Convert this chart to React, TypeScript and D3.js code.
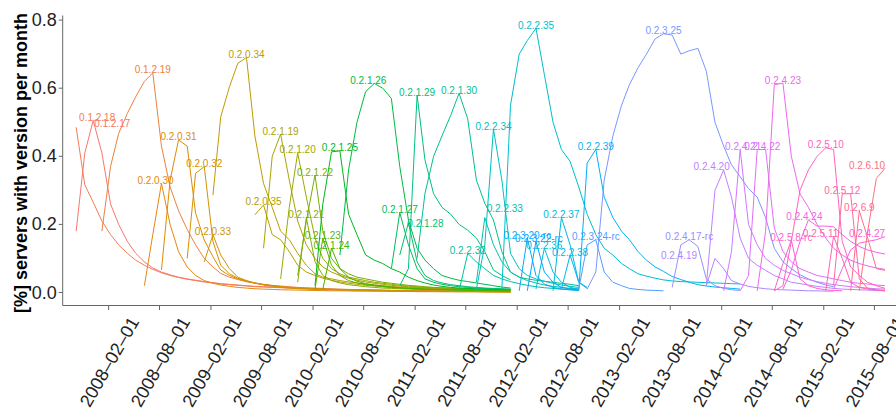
import React, { useRef, useEffect } from 'react'
import * as d3 from 'd3'

const WIDTH = 896
const HEIGHT = 409
const FONT = '"Liberation Sans", Arial, sans-serif'

// release names, in legend / colour order
const versions = [
  '0.1.2.17', '0.1.2.18', '0.1.2.19',
  '0.2.0.30', '0.2.0.31', '0.2.0.32', '0.2.0.33', '0.2.0.34', '0.2.0.35',
  '0.2.1.19', '0.2.1.20', '0.2.1.21', '0.2.1.22', '0.2.1.23', '0.2.1.24',
  '0.2.1.25', '0.2.1.26', '0.2.1.27', '0.2.1.28', '0.2.1.29', '0.2.1.30',
  '0.2.2.32', '0.2.2.33', '0.2.2.34', '0.2.2.35', '0.2.2.36', '0.2.2.37',
  '0.2.2.38', '0.2.2.39', '0.2.3.20-rc', '0.2.3.22-rc', '0.2.3.24-rc', '0.2.3.25',
  '0.2.4.17-rc', '0.2.4.19', '0.2.4.20', '0.2.4.21', '0.2.4.22', '0.2.4.23',
  '0.2.4.24', '0.2.4.27', '0.2.5.8-rc', '0.2.5.10', '0.2.5.11', '0.2.5.12',
  '0.2.6.9', '0.2.6.10'
]

// month of the first value of each version
const firstMonths = [
  '2007-10', '2007-10', '2008-01',
  '2008-06', '2008-08', '2008-11', '2009-01', '2009-02', '2009-07',
  '2009-08', '2009-10', '2009-12', '2009-12', '2010-02', '2010-03',
  '2010-02', '2010-05', '2010-11', '2010-12', '2010-12', '2011-02',
  '2011-07', '2011-09', '2011-09', '2011-12', '2012-04', '2012-06',
  '2012-07', '2012-09', '2012-02', '2012-03', '2012-09', '2012-10',
  '2013-08', '2013-12', '2013-12', '2014-02', '2014-04', '2014-06',
  '2014-09', '2015-03', '2014-08', '2014-08', '2015-02', '2015-03',
  '2015-05', '2015-06'
]

// monthly share of servers running each version
const s_0_1_2_17 = [0.18, 0.41, 0.505, 0.41, 0.26, 0.2, 0.15, 0.115, 0.09, 0.072, 0.06, 0.052, 0.045, 0.04, 0.036, 0.032, 0.029, 0.026, 0.024, 0.022, 0.02, 0.018, 0.017, 0.016, 0.015, 0.014, 0.013, 0.012, 0.011, 0.01, 0.0095, 0.009, 0.0085, 0.008, 0.0075, 0.007, 0.0065, 0.006, 0.006, 0.0055, 0.005, 0.005, 0.0045, 0.0045, 0.004, 0.004, 0.0035, 0.0035, 0.003, 0.003, 0.003, 0.0025]
const s_0_1_2_18 = [0.485, 0.316, 0.265, 0.21, 0.17, 0.14, 0.115, 0.095, 0.08, 0.068, 0.058, 0.05, 0.044, 0.039, 0.035, 0.031, 0.028, 0.025, 0.023, 0.021, 0.019, 0.017, 0.016, 0.015, 0.014, 0.013, 0.012, 0.011, 0.01, 0.0095, 0.009, 0.0085, 0.008, 0.0075, 0.007, 0.0065, 0.006, 0.0055, 0.005, 0.005, 0.0045, 0.0045, 0.004, 0.004, 0.0035, 0.0035, 0.003, 0.003, 0.003, 0.0025, 0.0025, 0.002]
const s_0_1_2_19 = [0.18, 0.37, 0.467, 0.526, 0.575, 0.62, 0.645, 0.43, 0.31, 0.24, 0.185, 0.14, 0.1, 0.075, 0.056, 0.045, 0.038, 0.032, 0.028, 0.024, 0.021, 0.019, 0.017, 0.015, 0.014, 0.013, 0.012, 0.011, 0.01, 0.009, 0.0085, 0.008, 0.0075, 0.007, 0.0065, 0.006, 0.0055, 0.005, 0.005, 0.0045, 0.004, 0.004, 0.0035, 0.0035, 0.003, 0.003, 0.003, 0.0025, 0.0025]
const s_0_2_0_30 = [0.02, 0.17, 0.32, 0.2, 0.12, 0.075, 0.05, 0.035, 0.027, 0.022, 0.018, 0.015, 0.013, 0.011, 0.01, 0.009, 0.008, 0.0075, 0.007, 0.0065, 0.006, 0.0055, 0.005, 0.005, 0.0045, 0.004, 0.004, 0.0035, 0.0035, 0.003, 0.003, 0.003, 0.0025, 0.0025, 0.0025, 0.002, 0.002, 0.002, 0.002, 0.0018, 0.0018, 0.0015, 0.0015, 0.0015]
const s_0_2_0_31 = [0.066, 0.33, 0.448, 0.43, 0.233, 0.154, 0.105, 0.066, 0.05, 0.04, 0.032, 0.027, 0.023, 0.02, 0.017, 0.015, 0.013, 0.012, 0.011, 0.01, 0.009, 0.0085, 0.008, 0.0075, 0.007, 0.0065, 0.006, 0.0055, 0.005, 0.005, 0.0045, 0.004, 0.004, 0.0035, 0.0035, 0.003, 0.003, 0.003, 0.0025, 0.0025, 0.0025, 0.002]
const s_0_2_0_32 = [0.1, 0.35, 0.37, 0.15, 0.08, 0.055, 0.042, 0.034, 0.028, 0.023, 0.02, 0.017, 0.015, 0.013, 0.012, 0.011, 0.01, 0.009, 0.0085, 0.008, 0.0075, 0.007, 0.0065, 0.006, 0.0055, 0.005, 0.005, 0.0045, 0.004, 0.004, 0.0035, 0.0035, 0.003, 0.003, 0.003, 0.0025, 0.0025, 0.0025, 0.002]
const s_0_2_0_33 = [0.09, 0.17, 0.11, 0.07, 0.045, 0.035, 0.028, 0.022, 0.018, 0.015, 0.013, 0.011, 0.01, 0.009, 0.008, 0.0075, 0.007, 0.0065, 0.006, 0.0055, 0.005, 0.005, 0.0045, 0.004, 0.004, 0.0035, 0.0035, 0.003, 0.003, 0.003, 0.0025, 0.0025, 0.0025, 0.002, 0.002, 0.002, 0.002]
const s_0_2_0_34 = [0.286, 0.516, 0.604, 0.673, 0.69, 0.46, 0.32, 0.25, 0.18, 0.155, 0.115, 0.08, 0.055, 0.045, 0.04, 0.035, 0.031, 0.028, 0.025, 0.022, 0.02, 0.018, 0.016, 0.015, 0.014, 0.013, 0.012, 0.011, 0.01, 0.0095, 0.009, 0.0085, 0.008, 0.0075, 0.007, 0.0065]
const s_0_2_0_35 = [0.228, 0.257, 0.17, 0.155, 0.12, 0.08, 0.06, 0.05, 0.042, 0.036, 0.031, 0.027, 0.024, 0.021, 0.019, 0.017, 0.015, 0.014, 0.013, 0.012, 0.011, 0.01, 0.0095, 0.009, 0.0085, 0.008, 0.0075, 0.007, 0.0065, 0.006, 0.006]
const s_0_2_1_19 = [0.13, 0.4, 0.465, 0.33, 0.21, 0.14, 0.1, 0.075, 0.06, 0.05, 0.042, 0.036, 0.031, 0.027, 0.024, 0.021, 0.019, 0.017, 0.015, 0.014, 0.013, 0.012, 0.011, 0.01, 0.0095, 0.009, 0.0085, 0.008, 0.0075, 0.007]
const s_0_2_1_20 = [0.04, 0.25, 0.41, 0.28, 0.16, 0.1, 0.07, 0.055, 0.045, 0.04, 0.035, 0.03, 0.027, 0.024, 0.021, 0.019, 0.017, 0.015, 0.014, 0.013, 0.012, 0.011, 0.01, 0.0095, 0.009, 0.0085, 0.008, 0.0075]
const s_0_2_1_21 = [0.03, 0.22, 0.09, 0.05, 0.035, 0.028, 0.023, 0.02, 0.017, 0.015, 0.013, 0.012, 0.011, 0.01, 0.009, 0.0085, 0.008, 0.0075, 0.007, 0.0065, 0.006, 0.0055, 0.005, 0.005, 0.0045, 0.0045]
const s_0_2_1_22 = [0.05, 0.21, 0.345, 0.18, 0.1, 0.07, 0.055, 0.045, 0.04, 0.035, 0.03, 0.027, 0.024, 0.021, 0.019, 0.017, 0.015, 0.014, 0.013, 0.012, 0.011, 0.01, 0.0095, 0.009, 0.0085, 0.008]
const s_0_2_1_23 = [0.01, 0.16, 0.08, 0.05, 0.035, 0.028, 0.023, 0.02, 0.017, 0.015, 0.013, 0.012, 0.011, 0.01, 0.009, 0.0085, 0.008, 0.0075, 0.007, 0.0065, 0.006, 0.0055, 0.005, 0.005]
const s_0_2_1_24 = [0.01, 0.13, 0.07, 0.045, 0.033, 0.026, 0.022, 0.019, 0.016, 0.014, 0.012, 0.011, 0.01, 0.009, 0.0085, 0.008, 0.0075, 0.007, 0.0065, 0.006, 0.0055, 0.005, 0.005]
const s_0_2_1_25 = [0.02, 0.26, 0.413, 0.416, 0.23, 0.17, 0.11, 0.095, 0.085, 0.07, 0.06, 0.045, 0.035, 0.028, 0.022, 0.018, 0.015, 0.013, 0.012, 0.011, 0.01, 0.009, 0.0085, 0.008]
const s_0_2_1_26 = [0.11, 0.36, 0.5, 0.59, 0.614, 0.6, 0.57, 0.37, 0.213, 0.13, 0.095, 0.07, 0.05, 0.042, 0.036, 0.032, 0.028, 0.024, 0.02, 0.016, 0.013]
const s_0_2_1_27 = [0.07, 0.235, 0.14, 0.07, 0.04, 0.03, 0.024, 0.02, 0.017, 0.015, 0.013, 0.012, 0.011, 0.01, 0.009]
const s_0_2_1_28 = [0.11, 0.205, 0.09, 0.05, 0.035, 0.028, 0.023, 0.02, 0.017, 0.015, 0.013, 0.012, 0.011, 0.01]
const s_0_2_1_29 = [0.02, 0.07, 0.58, 0.39, 0.29, 0.25, 0.23, 0.2, 0.183, 0.16, 0.12, 0.066, 0.05, 0.037]
const s_0_2_1_30 = [0.1, 0.29, 0.4, 0.46, 0.52, 0.585, 0.51, 0.33, 0.262, 0.213, 0.12, 0.06, 0.045, 0.04, 0.036, 0.033, 0.03, 0.027, 0.024, 0.02]
const s_0_2_2_32 = [0.005, 0.115, 0.09, 0.07, 0.05, 0.04, 0.032, 0.026, 0.021, 0.017, 0.014, 0.012, 0.01, 0.008, 0.007]
const s_0_2_2_33 = [0.03, 0.22, 0.14, 0.09, 0.06, 0.045, 0.035, 0.028, 0.022, 0.018, 0.015, 0.012, 0.01]
const s_0_2_2_34 = [0.01, 0.14, 0.48, 0.33, 0.115, 0.07, 0.05, 0.04, 0.033, 0.027, 0.022, 0.018, 0.015]
const s_0_2_2_35 = [0.01, 0.55, 0.7, 0.74, 0.776, 0.64, 0.5, 0.42, 0.385, 0.31, 0.23, 0.17, 0.13, 0.11, 0.085, 0.07, 0.055, 0.048, 0.042, 0.037, 0.034, 0.032, 0.031, 0.03, 0.029, 0.028, 0.027, 0.026, 0.025]
const s_0_2_2_36 = [0.01, 0.13, 0.06, 0.03, 0.015, 0.01]
const s_0_2_2_37 = [0.005, 0.22, 0.14, 0.03, 0.015]
const s_0_2_2_38 = [0.01, 0.11, 0.03, 0.012]
const s_0_2_2_39 = [0.005, 0.38, 0.42, 0.28, 0.22, 0.18, 0.155, 0.12, 0.095, 0.075, 0.062, 0.047, 0.038, 0.03, 0.023, 0.019, 0.016, 0.014, 0.012, 0.01]
const s_0_2_3_20rc = [0.005, 0.16, 0.05, 0.025, 0.015, 0.01, 0.008, 0.006]
const s_0_2_3_22rc = [0.005, 0.15, 0.06, 0.03, 0.015, 0.01, 0.007]
const s_0_2_3_24rc = [0.01, 0.14, 0.155, 0.06, 0.03, 0.02, 0.012, 0.009, 0.007, 0.006, 0.005]
const s_0_2_3_25 = [0.01, 0.06, 0.33, 0.46, 0.55, 0.61, 0.66, 0.7, 0.745, 0.76, 0.756, 0.7, 0.71, 0.717, 0.65, 0.5, 0.43, 0.375, 0.34, 0.305, 0.28, 0.22, 0.13, 0.09, 0.07, 0.052, 0.04, 0.03, 0.022, 0.017]
const s_0_2_4_17rc = [0.015, 0.14, 0.155, 0.135, 0.04, 0.02, 0.012, 0.008, 0.006]
const s_0_2_4_19 = [0.02, 0.1, 0.07, 0.035, 0.025, 0.018, 0.014, 0.011, 0.009, 0.008, 0.007, 0.006, 0.005, 0.005, 0.004, 0.004]
const s_0_2_4_20 = [0.02, 0.3, 0.36, 0.28, 0.16, 0.1, 0.08, 0.065, 0.05, 0.04, 0.03, 0.026, 0.022, 0.018, 0.015, 0.012, 0.01, 0.009, 0.008, 0.007, 0.006, 0.005]
const s_0_2_4_21 = [0.005, 0.12, 0.42, 0.2, 0.14, 0.1, 0.08, 0.065, 0.055, 0.045, 0.038, 0.032, 0.027, 0.023, 0.02, 0.017, 0.015, 0.013, 0.011, 0.01]
const s_0_2_4_22 = [0.005, 0.05, 0.42, 0.42, 0.19, 0.12, 0.09, 0.07, 0.06, 0.05, 0.045, 0.04, 0.035, 0.03, 0.027, 0.025, 0.022, 0.02]
const s_0_2_4_23 = [0.005, 0.18, 0.61, 0.615, 0.4, 0.29, 0.25, 0.2, 0.16, 0.13, 0.11, 0.095, 0.085, 0.078, 0.072, 0.068]
const s_0_2_4_24 = [0.01, 0.066, 0.15, 0.213, 0.195, 0.195, 0.193, 0.17, 0.15, 0.135, 0.125, 0.118, 0.113]
const s_0_2_4_27 = [0.01, 0.07, 0.125, 0.145, 0.15, 0.155, 0.164]
const s_0_2_5_8rc = [0.005, 0.085, 0.154, 0.04, 0.02, 0.012, 0.008, 0.006, 0.005]
const s_0_2_5_10 = [0.005, 0.02, 0.15, 0.3, 0.36, 0.4, 0.425, 0.42, 0.15, 0.075, 0.05, 0.03, 0.02, 0.012]
const s_0_2_5_11 = [0.005, 0.165, 0.1, 0.03, 0.015, 0.01, 0.008, 0.006]
const s_0_2_5_12 = [0.02, 0.29, 0.29, 0.04, 0.012, 0.007, 0.005]
const s_0_2_6_9 = [0.005, 0.24, 0.16, 0.07, 0.065]
const s_0_2_6_10 = [0.005, 0.18, 0.335, 0.365]

const shares = [
  s_0_1_2_17, s_0_1_2_18, s_0_1_2_19,
  s_0_2_0_30, s_0_2_0_31, s_0_2_0_32, s_0_2_0_33, s_0_2_0_34, s_0_2_0_35,
  s_0_2_1_19, s_0_2_1_20, s_0_2_1_21, s_0_2_1_22, s_0_2_1_23, s_0_2_1_24,
  s_0_2_1_25, s_0_2_1_26, s_0_2_1_27, s_0_2_1_28, s_0_2_1_29, s_0_2_1_30,
  s_0_2_2_32, s_0_2_2_33, s_0_2_2_34, s_0_2_2_35, s_0_2_2_36, s_0_2_2_37,
  s_0_2_2_38, s_0_2_2_39, s_0_2_3_20rc, s_0_2_3_22rc, s_0_2_3_24rc, s_0_2_3_25,
  s_0_2_4_17rc, s_0_2_4_19, s_0_2_4_20, s_0_2_4_21, s_0_2_4_22, s_0_2_4_23,
  s_0_2_4_24, s_0_2_4_27, s_0_2_5_8rc, s_0_2_5_10, s_0_2_5_11, s_0_2_5_12,
  s_0_2_6_9, s_0_2_6_10
]

const yTicks = [0, 0.2, 0.4, 0.6, 0.8]
const xTicks = [
  '2008-02-01', '2008-08-01', '2009-02-01', '2009-08-01', '2010-02-01', '2010-08-01',
  '2011-02-01', '2011-08-01', '2012-02-01', '2012-08-01', '2013-02-01', '2013-08-01',
  '2014-02-01', '2014-08-01', '2015-02-01', '2015-08-01'
]

// labels that were pushed aside to stay clear of each other / the panel edge
const labelShift: Record<string, [number, number]> = {
  '0.1.2.17': [19, 6],
  '0.1.2.18': [21, -7],
  '0.2.0.30': [-6, 0],
  '0.2.1.26': [-6, 0],
  '0.2.1.28': [17, 4],
  '0.2.2.33': [20, -6],
  '0.2.3.22-rc': [3, 0],
  '0.2.4.19': [-36, 0],
  '0.2.4.20': [-12, 0],
  '0.2.4.21': [3, 0],
  '0.2.4.22': [5, 0],
  '0.2.4.24': [-4, 0],
  '0.2.4.27': [-18, 0],
  '0.2.5.11': [-13, 0],
  '0.2.6.10': [-18, 0]
}

// ggplot's default hue palette: hcl(h, c = 100, l = 65) in CIE-LUV
const hueColor = (h: number) => {
  const l = 65, c = 100
  const hr = (h * Math.PI) / 180
  const U = c * Math.cos(hr), V = c * Math.sin(hr)
  const Xn = 95.047, Yn = 100, Zn = 108.883
  const den = Xn + 15 * Yn + 3 * Zn
  const un = (4 * Xn) / den, vn = (9 * Yn) / den
  const Y = Yn * Math.pow((l + 16) / 116, 3)
  const u = U / (13 * l) + un, v = V / (13 * l) + vn
  const X = (9 * Y * u) / (4 * v)
  const Z = ((12 - 3 * u - 20 * v) * Y) / (4 * v)
  const lin = [
    3.240479 * X - 1.53715 * Y - 0.498535 * Z,
    -0.969256 * X + 1.875992 * Y + 0.041556 * Z,
    0.055648 * X - 0.204043 * Y + 1.057311 * Z
  ].map(t => t / 100)
  const [r, g, b] = lin.map(t => {
    const s = t <= 0.0031308 ? 12.92 * t : 1.055 * Math.pow(t, 1 / 2.4) - 0.055
    return Math.round(255 * Math.max(0, Math.min(1, s)))
  })
  return d3.rgb(r, g, b).formatHex()
}

const parseDay = (s: string) => {
  const [y, m, d] = s.split('-').map(Number)
  return new Date(y, m - 1, d)
}

const App = () => {
  const ref = useRef<SVGSVGElement>(null)

  useEffect(() => {
    const svg = d3.select(ref.current)
    svg.selectAll('*').remove()

    const x = d3
      .scaleTime()
      .domain([new Date(2008, 1, 1), new Date(2015, 7, 1)])
      .range([108.6, 874.4])
    const y = d3.scaleLinear().domain([0, 0.8]).range([292.5, 20.1])

    const panelLeft = 62.7
    const panelBottom = 305.5
    const panelTop = 15.5
    const axisColor = '#666'

    const n = versions.length
    const colors = versions.map((_, i) => hueColor(15 + (360 * i) / n))

    const series = versions.map((name, i) => {
      const [yy, mm] = firstMonths[i].split('-').map(Number)
      const points = shares[i].map((v, k) => [new Date(yy, mm - 1 + k, 8), v] as [Date, number])
      return { name, points, color: colors[i] }
    })

    const line = d3
      .line<[Date, number]>()
      .x(d => x(d[0]))
      .y(d => y(d[1]))

    svg
      .append('g')
      .selectAll('path')
      .data(series)
      .join('path')
      .attr('fill', 'none')
      .attr('stroke', d => d.color)
      .attr('stroke-width', 1)
      .attr('d', d => line(d.points))

    // labels at the top of each curve
    svg
      .append('g')
      .selectAll('text')
      .data(series)
      .join('text')
      .attr('x', d => {
        const top = d.points[d3.maxIndex(d.points, p => p[1])]
        return x(top[0]) + (labelShift[d.name] ? labelShift[d.name][0] : 0)
      })
      .attr('y', d => {
        const top = d.points[d3.maxIndex(d.points, p => p[1])]
        return y(top[1]) - 3 + (labelShift[d.name] ? labelShift[d.name][1] : 0)
      })
      .attr('text-anchor', 'middle')
      .attr('dominant-baseline', 'central')
      .attr('font-family', FONT)
      .attr('font-size', 10)
      .attr('fill', d => d.color)
      .text(d => d.name)

    // y axis
    const yAxis = svg.append('g')
    yAxis
      .append('line')
      .attr('x1', panelLeft)
      .attr('x2', panelLeft)
      .attr('y1', panelTop)
      .attr('y2', panelBottom)
      .attr('stroke', axisColor)
    yAxis
      .selectAll('line.tick')
      .data(yTicks)
      .join('line')
      .attr('class', 'tick')
      .attr('x1', panelLeft - 4)
      .attr('x2', panelLeft)
      .attr('y1', d => y(d))
      .attr('y2', d => y(d))
      .attr('stroke', axisColor)
    yAxis
      .selectAll('text')
      .data(yTicks)
      .join('text')
      .attr('x', panelLeft - 6)
      .attr('y', d => y(d))
      .attr('text-anchor', 'end')
      .attr('dominant-baseline', 'central')
      .attr('font-family', FONT)
      .attr('font-size', 18)
      .attr('fill', '#222')
      .text(d => d3.format('.1f')(d))

    // x axis
    const xAxis = svg.append('g')
    xAxis
      .append('line')
      .attr('x1', panelLeft)
      .attr('x2', WIDTH)
      .attr('y1', panelBottom)
      .attr('y2', panelBottom)
      .attr('stroke', axisColor)
    xAxis
      .selectAll('line.tick')
      .data(xTicks)
      .join('line')
      .attr('class', 'tick')
      .attr('x1', d => x(parseDay(d)))
      .attr('x2', d => x(parseDay(d)))
      .attr('y1', panelBottom)
      .attr('y2', panelBottom + 4.5)
      .attr('stroke', axisColor)
    xAxis
      .selectAll('text')
      .data(xTicks)
      .join('text')
      .attr('transform', d => `translate(${x(parseDay(d)) + 1},362) rotate(-60)`)
      .attr('text-anchor', 'middle')
      .attr('dominant-baseline', 'central')
      .attr('font-family', FONT)
      .attr('font-size', 18)
      .attr('fill', '#222')
      .text(d => d.replace(/-/g, '\u2013'))

    // y title
    svg
      .append('text')
      .attr('transform', 'translate(21,163) rotate(-90)')
      .attr('text-anchor', 'middle')
      .attr('dominant-baseline', 'central')
      .attr('font-family', FONT)
      .attr('font-size', 18)
      .attr('font-weight', 'bold')
      .attr('fill', '#000')
      .text('[%] servers with version per month')
  }, [])

  return (
    <svg
      ref={ref}
      width={WIDTH}
      height={HEIGHT}
      style={{ position: 'absolute', left: 0, top: 0, background: '#fff' }}
    />
  )
}

export default App
